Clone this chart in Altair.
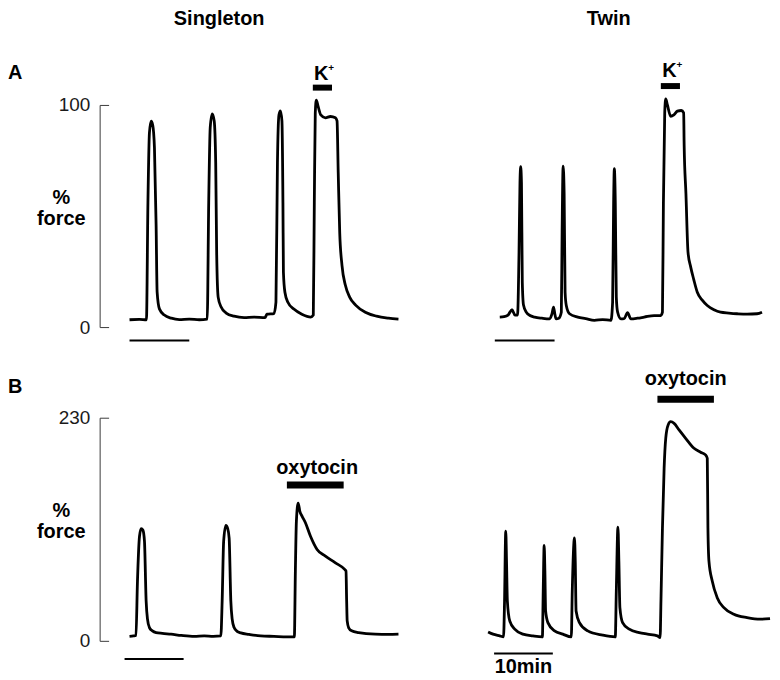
import altair as alt
import pandas as pd

FONT = "Liberation Sans"

# ---------------- traces: time (min) and force (%) ----------------
a_single_t = [0, 1.67, 2.83, 3.08, 3.33, 3.62, 3.88, 4.17, 4.45, 4.62,
              5.0, 5.83, 7.0, 8.33, 10, 11.67, 13, 13.25, 13.5, 13.83,
              14.17, 14.42, 14.58, 14.83, 15.33, 16.17, 17.5, 19.17, 20.83, 22.67,
              23, 24.17, 24.5, 24.75, 25, 25.25, 25.5, 25.67, 25.75, 26,
              26.5, 27.5, 28.83, 30.33, 30.75, 30.92, 31.08, 31.25, 31.58, 32,
              32.78, 33.62, 34.45, 34.72, 34.92, 35.17, 35.55, 36.12, 36.83, 37.83,
              39.45, 41.33, 43.33, 45]
a_single_f = [3.3, 3.5, 3.3, 56, 87.4, 92.7, 91, 80.7, 45.7, 15.7,
              8.2, 5.4, 4.0, 3.4, 3.6, 3.3, 3.6, 56, 89.7, 96,
              92.8, 74, 33.6, 13.5, 9, 6.3, 4.9, 4.3, 4.5, 4.3,
              5.8, 6.1, 11.2, 74, 95.5, 97.3, 92.8, 56, 24.7, 15.7,
              11.2, 8.1, 5.8, 4.5, 5.4, 56, 96.4, 102.2, 99.1, 95.5,
              94.2, 94.8, 94.2, 92.8, 69.5, 42.6, 27.8, 18.8, 13.5, 9.9,
              6.7, 4.9, 4.0, 3.6]

a_twin_t = [1.95, 2.67, 3.33, 4.0, 4.5, 4.92, 5.17, 5.33, 5.45, 5.58,
            5.72, 5.92, 6.38, 7.0, 7.78, 9.0, 10.28, 10.67, 10.95, 11.17,
            11.38, 11.83, 12.25, 12.38, 12.55, 12.72, 12.88, 13.08, 13.62, 15.0,
            16.33, 17.78, 19.17, 20.55, 20.83, 21.0, 21.12, 21.28, 21.45, 21.67,
            22.22, 22.75, 23.33, 23.88, 25.0, 26.12, 27.78, 28.88, 29.17, 29.33,
            29.55, 29.72, 30.0, 30.55, 31.08, 31.67, 32.33, 32.72, 32.8, 33.1,
            33.45, 33.9, 34.4, 35.0, 35.83, 36.67, 37.78, 38.89, 40.28, 41.67,
            43.33, 45.0, 45.83]
a_twin_f = [4.5, 4.7, 5.4, 7.8, 5.4, 5.4, 33.6, 65, 72.2, 65,
            20.2, 9.9, 6.7, 5.2, 4.5, 4.0, 3.7, 5.8, 9.0, 5.8,
            3.7, 4.0, 6.7, 42.6, 72.5, 60.5, 15.7, 9.7, 6.0, 4.5,
            3.8, 3.0, 3.4, 3.0, 11.2, 56, 71.3, 56, 13.5, 6.7,
            3.7, 3.8, 6.5, 3.7, 4.0, 4.5, 5.2, 5.2, 6.7, 56,
            96.4, 102.7, 100, 94.9, 95.5, 97.2, 97.5, 96.4, 82, 60,
            33.6, 27, 21.5, 15.7, 12.1, 9.7, 7.8, 6.7, 6.3, 6.0,
            5.8, 6.0, 6.7]

b_single_t = [0, 0.67, 1.08, 1.33, 1.67, 1.95, 2.25, 2.5, 2.78, 3.0,
              3.33, 3.83, 4.45, 5.5, 6.95, 8.67, 10.83, 12.5, 14, 15.28,
              15.5, 15.75, 16.12, 16.42, 16.67, 16.95, 17.17, 17.5, 18, 18.62,
              20, 21.95, 24.17, 26.33, 27.58, 27.75, 27.92, 28.22, 28.5, 28.88,
              29.45, 30.28, 31.38, 32.78, 34.45, 36, 36.22, 36.33, 36.42, 36.67,
              37.17, 38.33, 41.12, 43.33, 45]
b_single_f = [4.6, 5.1, 5.6, 61.6, 107.8, 115.7, 114, 102.7, 41.1, 22.6,
              13.7, 10.3, 8.5, 7.7, 6.9, 5.6, 4.6, 5.1, 4.6, 5.1,
              41.1, 102.7, 119.1, 116, 105.8, 41.1, 22.6, 13.7, 9.8, 8.2,
              6.7, 5.1, 4.6, 4.1, 4.1, 71.9, 123.2, 142, 133.5, 128.4,
              121.5, 107.8, 94.2, 87.3, 80.4, 73.6, 71.9, 41.1, 20.5, 13.4,
              10.3, 8.5, 6.9, 6.7, 6.9]

b_twin_t = [0, 0.83, 1.95, 2.58, 2.75, 2.95, 3.08, 3.22, 3.62, 4.45,
            5.83, 7.5, 9.08, 9.22, 9.38, 9.5, 9.62, 10, 11.12, 12.5,
            13.92, 14.08, 14.45, 14.58, 14.72, 15.28, 16.67, 19.17, 21.28, 21.45,
            21.72, 21.88, 22.05, 22.5, 23.62, 25.28, 26.67, 28.33, 28.78, 28.92,
            29.17, 29.45, 29.72, 30.12, 30.55, 31.12, 31.95, 33.05, 34.45, 35.55,
            36.38, 36.67, 36.78, 36.95, 37.5, 38.33, 39.45, 41.12, 43.33, 45.55,
            47.17]
b_twin_f = [9.2, 6.9, 5.1, 4.1, 41.1, 113, 82.2, 41.1, 20.5, 12,
            6.9, 5.1, 4.1, 51.4, 98.3, 71.9, 30.8, 18.8, 10.3, 6.9,
            4.1, 51.4, 106.1, 82.2, 30.8, 18.8, 10.3, 5.9, 4.1, 51.4,
            117.1, 82.2, 34.2, 18.8, 12, 8.5, 6.9, 5.1, 3.4, 41.1,
            116.4, 178, 208.8, 222.6, 225.9, 224.2, 217.4, 208.8, 198.5, 194.4,
            191.7, 188.2, 116.4, 82.2, 61.6, 44.5, 34.2, 27.4, 23.9, 22.3,
            22.9]

# ---------------- annotations ----------------
# 10-min scale bars (A singleton, A twin, B singleton, B twin)
scalebar_t0 = [0.0, 1.12, -0.83, 1.0]
scalebar_t1 = [10.0, 11.12, 9.05, 10.83]
scalebar_f = [-6.0, -6.0, -18.8, -13.0]
scalebar_label = ["", "", "", "10min"]

# drug application bars
drug_names = ["K", "K", "oxytocin", "oxytocin"]
drug_sup = ["+", "+", "", ""]
drug_t0 = [30.67, 28.9, 26.33, 28.33]
drug_t1 = [33.88, 32.1, 35.83, 37.78]
drug_f = [107.8, 108.5, 160.7, 249.0]
drug_label_t = [32.08, 30.33, 31.39, 33.05]
drug_label_f = [111.2, 112.6, 172.5, 263.6]

column_titles = ["Singleton", "Twin"]
row_letters = ["A", "B"]
y_ticks = [[0, 100], [0, 230]]
y_domain = [[0, 100], [0, 230]]

LEFT_W, RIGHT_W = 300, 285
ROW_H = [223, 224]
LEFT_X = [-5, 45]
RIGHT_X = [0, 47.5]
BOLD = 20


def panel(i, t, f, row, left):
    xs = alt.Scale(domain=LEFT_X if left else RIGHT_X, nice=False, zero=False)
    ys = alt.Scale(domain=y_domain[row], nice=False, zero=False)

    trace_df = pd.DataFrame({"t": t, "f": f})
    if left:
        trace_axis = alt.Axis(orient="left", domain=True, domainColor="#3a3a3a",
                              domainWidth=1, ticks=False, labels=False, grid=False,
                              values=y_ticks[row], title=["%", "force"], titleAngle=0,
                              titleAlign="center", titleBaseline="alphabetic",
                              titleX=-39, titleY=99, titleFontSize=BOLD,
                              titleFontWeight="bold", titleLineHeight=21,
                              titleFont=FONT, titleColor="#000000")
    else:
        trace_axis = None
    trace = alt.Chart(trace_df).mark_line(
        color="black", strokeWidth=2.8, interpolate="monotone", strokeJoin="round"
    ).encode(
        x=alt.X("t:Q", scale=xs, axis=None),
        y=alt.Y("f:Q", scale=ys, axis=trace_axis),
    )

    sb_df = pd.DataFrame({"t0": [scalebar_t0[i]], "t1": [scalebar_t1[i]],
                          "f": [scalebar_f[i]], "lab": [scalebar_label[i]]})
    sb_df["tm"] = (sb_df["t0"] + sb_df["t1"]) / 2
    if left:
        tick_axis = alt.Axis(orient="left", domain=False, ticks=True, tickSize=9,
                             tickColor="#3a3a3a", tickWidth=1, labels=True,
                             labelFontSize=19, labelFont=FONT, labelColor="#1a1a1a",
                             labelPadding=10, values=y_ticks[row], grid=False, offset=-9)
    else:
        tick_axis = None
    scalebar = alt.Chart(sb_df).mark_rule(color="black", strokeWidth=2).encode(
        x=alt.X("t0:Q", scale=xs, axis=None),
        x2="t1:Q",
        y=alt.Y("f:Q", scale=ys, axis=tick_axis, title=None),
    )
    sb_text = alt.Chart(sb_df).mark_text(
        font=FONT, fontSize=BOLD, fontWeight="bold", baseline="alphabetic",
        align="center", dy=20
    ).encode(
        x=alt.X("tm:Q", scale=xs, axis=None),
        y=alt.Y("f:Q", scale=ys, axis=None),
        text="lab:N",
    )

    d_df = pd.DataFrame({"t0": [drug_t0[i]], "t1": [drug_t1[i]], "f": [drug_f[i]],
                         "lt": [drug_label_t[i]], "lf": [drug_label_f[i]],
                         "name": [drug_names[i]], "sup": [drug_sup[i]]})
    dbar = alt.Chart(d_df).mark_rule(
        color="black", strokeWidth=6 if row == 0 else 7, strokeCap="butt"
    ).encode(
        x=alt.X("t0:Q", scale=xs, axis=None),
        x2="t1:Q",
        y=alt.Y("f:Q", scale=ys, axis=None),
    )
    dlab = alt.Chart(d_df).mark_text(
        font=FONT, fontSize=BOLD, fontWeight="bold", baseline="alphabetic", align="center"
    ).encode(
        x=alt.X("lt:Q", scale=xs, axis=None),
        y=alt.Y("lf:Q", scale=ys, axis=None),
        text="name:N",
    )
    dsup = alt.Chart(d_df).mark_text(
        font=FONT, fontSize=10, fontWeight="bold", baseline="middle", align="center",
        dx=10, dy=-12
    ).encode(
        x=alt.X("lt:Q", scale=xs, axis=None),
        y=alt.Y("lf:Q", scale=ys, axis=None),
        text="sup:N",
    )

    layers = [trace, scalebar, sb_text, dbar, dlab, dsup]

    if row == 0:
        col_df = pd.DataFrame({"txt": [column_titles[0 if left else 1]]})
        layers.append(alt.Chart(col_df).mark_text(
            font=FONT, fontSize=BOLD, fontWeight="bold", baseline="alphabetic",
            align="center"
        ).encode(x=alt.value(120 if left else 121), y=alt.value(-80), text="txt:N"))
    if left:
        let_df = pd.DataFrame({"txt": [row_letters[row]]})
        layers.append(alt.Chart(let_df).mark_text(
            font=FONT, fontSize=BOLD, fontWeight="bold", baseline="alphabetic",
            align="left"
        ).encode(x=alt.value(-92), y=alt.value(-26 if row == 0 else -25), text="txt:N"))

    ch = alt.layer(*layers).properties(width=LEFT_W if left else RIGHT_W,
                                       height=ROW_H[row])
    if left:
        ch = ch.resolve_axis(y="independent")
    return ch


aL = panel(0, a_single_t, a_single_f, 0, True)
aR = panel(1, a_twin_t, a_twin_f, 0, False)
bL = panel(2, b_single_t, b_single_f, 1, True)
bR = panel(3, b_twin_t, b_twin_f, 1, False)

chart = alt.concat(
    aL, aR, bL, bR, columns=2,
    spacing={"row": 91, "column": 90},
    bounds="flush",
    padding={"left": 0, "top": 0, "right": 0, "bottom": 0},
).configure(font=FONT).configure_view(stroke=None, strokeWidth=0).configure_axis(
    labelFontSize=19, labelFont=FONT, labelColor="#1a1a1a"
)

chart.save("out.html", embed_options={"renderer": "svg", "actions": False})
